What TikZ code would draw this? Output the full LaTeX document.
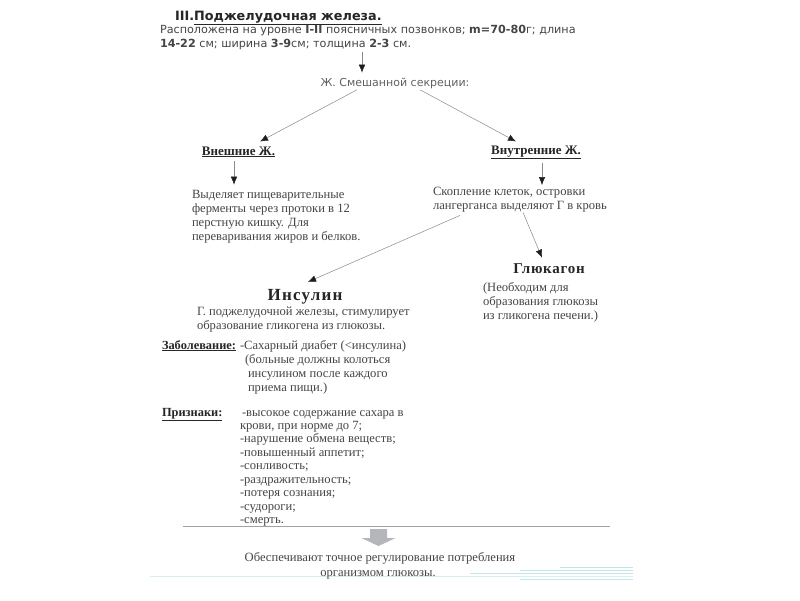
\documentclass[tikz,border=0pt]{standalone}
\usepackage{fontspec}
\setmainfont{Liberation Serif}
\newfontfamily\sansf{DejaVu Sans}
\usetikzlibrary{arrows.meta,calc}
\definecolor{txtgray}{HTML}{454545}
\definecolor{headcol}{HTML}{262626}
\definecolor{linegray}{HTML}{8A8A8A}
\definecolor{tipcol}{HTML}{1E1E1E}
\definecolor{blockgray}{HTML}{B4B6BA}
\definecolor{scanteal}{HTML}{A8DCDF}
\begin{document}
\begin{tikzpicture}[x=1pt,y=-1pt,
  sanstxt/.style={inner sep=0pt,outer sep=0pt,text=txtgray,font=\sansf\fontsize{11.2}{13}\selectfont,anchor=base west},
  sertxt/.style={inner sep=0pt,outer sep=0pt,text=txtgray,font=\fontsize{12.6}{13.9}\selectfont,align=left,anchor=north west},
  serline/.style={inner sep=0pt,outer sep=0pt,text=txtgray,font=\fontsize{12.6}{13.9}\selectfont,anchor=base west},
  headtxt/.style={inner sep=0pt,outer sep=0pt,text=headcol,font=\bfseries\fontsize{13}{15}\selectfont,anchor=base},
  bighead/.style={inner sep=0pt,outer sep=0pt,text=headcol,font=\bfseries\fontsize{17}{19}\selectfont\addfontfeature{LetterSpace=7},anchor=base},
  conn/.style={draw=linegray,line width=0.5pt,-{Latex[length=8pt,width=6.5pt,color=tipcol]}}
]
\useasboundingbox (0,0) rectangle (800,600);
\fill[white] (0,0) rectangle (800,600);

% header
\node[sanstxt,text=headcol,font=\sansf\bfseries\fontsize{12.8}{15}\selectfont] (title) at (175,20) {III.\underline{Поджелудочная железа.}};
\node[sanstxt] (loc1) at (160,33) {Расположена на уровне \textbf{I-II} поясничных позвонков; \textbf{m=70-80}г; длина};
\node[sanstxt] (loc2) at (160,47) {\textbf{14-22} см; ширина \textbf{3-9}см; толщина \textbf{2-3} см.};

\node[sanstxt,anchor=base,font=\sansf\fontsize{11}{13}\selectfont,text=black!62] (mix) at (395,86) {Ж. Смешанной секреции:};

\node[headtxt] (ext) at (238.5,155) {\underline{Внешние Ж.}};
\node[headtxt] (int) at (536,154) {\underline{Внутренние Ж.}};

\node[sertxt] (exttxt) at (192,190.2) {Выделяет пищеварительные\\ферменты через протоки в 12\\перстную кишку. Для\\переваривания жиров и белков.};
\node[sertxt] (inttxt) at (433,187.5) {Скопление клеток, островки\\лангерганса выделяют Г в кровь};

\node[bighead] (ins) at (305,300) {Инсулин};
\node[bighead,font=\bfseries\fontsize{15}{17}\selectfont\addfontfeature{LetterSpace=5}] (gluk) at (549,273) {Глюкагон};

\node[sertxt] (instxt) at (197,306.7) {Г. поджелудочной железы, стимулирует\\образование гликогена из глюкозы.};
\node[sertxt] (gluktxt) at (483,282.3) {(Необходим для\\образования глюкозы\\из гликогена печени.)};

% disease
\node[serline,text=headcol,font=\bfseries\fontsize{12.4}{13.9}\selectfont] (dis) at (162,349) {\underline{Заболевание:}};
\node[serline] (dis1) at (240,349) {-Сахарный диабет (<инсулина)};
\node[sertxt] (dis2) at (245,354.3) {(больные должны колоться\\\hspace*{3pt}инсулином после каждого\\\hspace*{3pt}приема пищи.)};

\node[serline,text=headcol,font=\bfseries\fontsize{12.4}{13.9}\selectfont] (sig) at (162,416) {\underline{Признаки:}};
\node[serline] (sig1) at (242,416) {-высокое содержание сахара в};
\node[sertxt,font=\fontsize{12.6}{13.5}\selectfont] (sig2) at (240,421) {крови, при норме до 7;\\-нарушение обмена веществ;\\-повышенный аппетит;\\-сонливость;\\-раздражительность;\\-потеря сознания;\\-судороги;\\-смерть.};

% bottom
\coordinate (hl) at (183,526);
\coordinate (hr) at (610,526);
\draw[linegray!80,line width=0.6pt] (hl) -- (hr);
\coordinate (ba) at (378.5,529);
\fill[blockgray] ($(ba)+(-8.5,0)$) -- ($(ba)+(8.5,0)$) -- ($(ba)+(8.5,9)$) -- ($(ba)+(17,9)$) -- ($(ba)+(0,17)$) -- ($(ba)+(-17,9)$) -- ($(ba)+(-8.5,9)$) -- cycle;

\foreach \yy/\xa/\op in {567/560/0.7,570/520/0.7,573/470/0.7,576/150/0.45,579/520/0.7}{
  \draw[scanteal,line width=0.8pt,opacity=\op] (\xa,\yy) -- (633,\yy);
}

\node[serline,anchor=base] (fin1) at (380,561) {Обеспечивают точное регулирование потребления};
\node[serline,anchor=base] (fin2) at (378,576) {организмом глюкозы.};

% connectors
\draw[conn] ($(mix.north)+(-33,-26)$) -- ($(mix.north)+(-33,-5)$);
\draw[conn] ($(mix.south)+(-38,1.5)$) -- ($(ext.north)+(21.5,-5)$);
\draw[conn] ($(mix.south)+(25,1.5)$) -- ($(int.north)+(-20,-4)$);
\draw[conn] ($(ext.south)+(-4.5,4)$) -- ($(exttxt.north west)+(42,-5.5)$);
\draw[conn] ($(int.south)+(6,4)$) -- ($(inttxt.north west)+(109,-2.5)$);
\draw[conn] ($(inttxt.south west)+(27,3)$) -- ($(ins.north)+(3,-7)$);
\draw[conn] ($(inttxt.south west)+(90,0)$) -- ($(gluk.north)+(-7,-5.5)$);
\end{tikzpicture}
\end{document}
